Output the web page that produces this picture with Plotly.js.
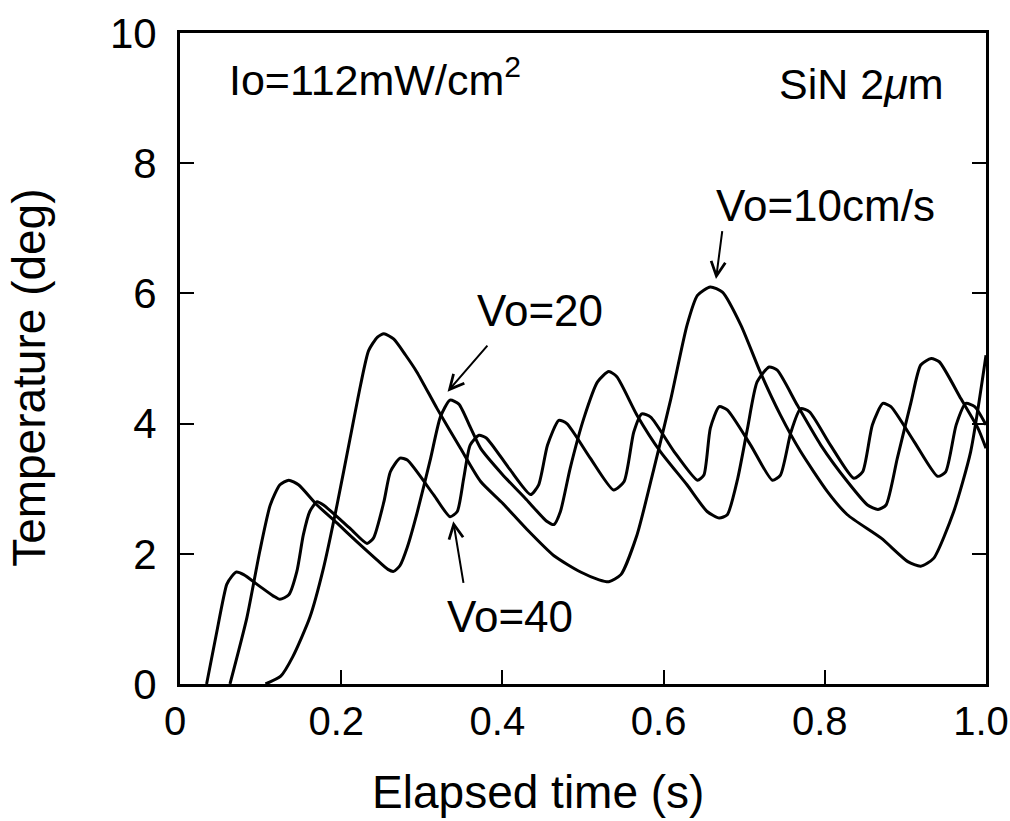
<!DOCTYPE html>
<html>
<head>
<meta charset="utf-8">
<script src="https://cdn.plot.ly/plotly-3.0.1.min.js"></script>
<style>
html, body { margin: 0; padding: 0; background: #ffffff; }
#chart { width: 1010px; height: 821px; }
</style>
</head>
<body>
<div id="chart"></div>
<script>
// ---- Data ----
// Vo = 40 cm/s
const v40Time = [0.033, 0.045, 0.058, 0.064, 0.070, 0.079, 0.099, 0.116, 0.124, 0.135, 0.145, 0.153, 0.161, 0.170, 0.178,
  0.211, 0.232, 0.240, 0.253, 0.261, 0.273, 0.282, 0.315, 0.335, 0.344, 0.352, 0.360, 0.371, 0.380, 0.409,
  0.435, 0.445, 0.456, 0.470, 0.480, 0.509, 0.538, 0.551, 0.563, 0.573, 0.584, 0.613, 0.642, 0.650, 0.658,
  0.669, 0.679, 0.708, 0.735, 0.745, 0.758, 0.770, 0.781, 0.807, 0.836, 0.847, 0.859, 0.872, 0.882, 0.911,
  0.940, 0.950, 0.963, 0.975, 0.986, 1.0];
const v40Temp = [0, 0.76, 1.53, 1.65, 1.72, 1.68, 1.50, 1.35, 1.30, 1.37, 1.73, 2.29, 2.65, 2.80, 2.75,
  2.39, 2.16, 2.24, 2.80, 3.26, 3.47, 3.44, 2.90, 2.57, 2.65, 3.16, 3.67, 3.82, 3.78, 3.30,
  2.91, 3.06, 3.67, 4.05, 4.00, 3.47, 2.98, 3.11, 3.87, 4.15, 4.10, 3.57, 3.13, 3.21, 3.93,
  4.26, 4.21, 3.67, 3.13, 3.21, 3.87, 4.23, 4.18, 3.67, 3.16, 3.26, 3.98, 4.31, 4.26, 3.72,
  3.19, 3.26, 3.98, 4.31, 4.26, 3.98];

// Vo = 20 cm/s
const v20Time = [0.062, 0.083, 0.099, 0.112, 0.124, 0.135, 0.147, 0.170, 0.195, 0.219, 0.244, 0.258, 0.265, 0.273,
  0.282, 0.294, 0.311, 0.323, 0.335, 0.346, 0.360, 0.373, 0.400, 0.430, 0.455, 0.464, 0.472, 0.484, 0.501,
  0.518, 0.532, 0.542, 0.567, 0.596, 0.629, 0.654, 0.669, 0.679, 0.692, 0.704, 0.716, 0.731, 0.741, 0.766,
  0.795, 0.828, 0.853, 0.866, 0.876, 0.890, 0.907, 0.919, 0.932, 0.942, 0.969, 0.990, 1.0];
const v20Temp = [0, 1.02, 2.04, 2.75, 3.06, 3.13, 3.06, 2.75, 2.47, 2.19, 1.91, 1.76, 1.73, 1.82,
  2.10, 2.62, 3.47, 4.10, 4.36, 4.30, 3.95, 3.62, 3.22, 2.83, 2.50, 2.45, 2.65, 3.31, 4.08,
  4.64, 4.80, 4.72, 4.13, 3.57, 3.06, 2.65, 2.55, 2.60, 3.16, 3.92, 4.64, 4.87, 4.82, 4.28,
  3.67, 3.11, 2.75, 2.68, 2.75, 3.47, 4.33, 4.90, 5.00, 4.95, 4.38, 3.93, 3.62];

// Vo = 10 cm/s
const v10Time = [0.106, 0.125, 0.140, 0.161, 0.178, 0.195, 0.211, 0.224, 0.234, 0.245, 0.253, 0.265, 0.280, 0.294, 0.319,
  0.348, 0.373, 0.400, 0.430, 0.464, 0.497, 0.520, 0.532, 0.547, 0.567, 0.588, 0.609, 0.629, 0.642, 0.658,
  0.673, 0.696, 0.720, 0.745, 0.770, 0.803, 0.828, 0.870, 0.903, 0.919, 0.935, 0.960, 0.981, 1.0];
const v10Temp = [0, 0.12, 0.42, 1.02, 1.78, 2.76, 3.77, 4.59, 5.12, 5.33, 5.38, 5.30, 5.05, 4.79, 4.23,
  3.62, 3.11, 2.78, 2.38, 1.97, 1.72, 1.60, 1.57, 1.68, 2.29, 3.31, 4.38, 5.51, 5.97, 6.10,
  6.02, 5.51, 4.79, 4.13, 3.57, 2.96, 2.60, 2.24, 1.88, 1.81, 1.93, 2.65, 3.57, 5.05];

// Axis ticks and titles
const xTickVals = [0, 0.2, 0.4, 0.6, 0.8, 1.0];
const xTickText = ["0", "0.2", "0.4", "0.6", "0.8", "1.0"];
const yTickVals = [0, 2, 4, 6, 8, 10];
const yTickText = ["0", "2", "4", "6", "8", "10"];
const xTitle = "Elapsed time (s)";
const yTitle = "Temperature (deg)";

// Text labels
const intensityLabel = "Io=112mW/cm<sup>2</sup>";
const filmLabel = "SiN 2<i>\u03bc</i>m";
const seriesLabels = ["Vo=10cm/s", "Vo=20", "Vo=40"];

// ---- Drawing ----
const FONT = "Liberation Sans, Arial, Helvetica, sans-serif";
const lineStyle = { color: "#000000", width: 3, shape: "spline", smoothing: 0.6 };
// trailing blank padding (kept from trimming by a zero-width end mark) shifts the centred titles
function padEnd(text, n) { return text + "\u00a0".repeat(n) + "\u200b"; }

const traces = [
  { x: v10Time, y: v10Temp, name: seriesLabels[0], mode: "lines", line: lineStyle, hoverinfo: "skip" },
  { x: v20Time, y: v20Temp, name: seriesLabels[1], mode: "lines", line: lineStyle, hoverinfo: "skip" },
  { x: v40Time, y: v40Temp, name: seriesLabels[2], mode: "lines", line: lineStyle, hoverinfo: "skip" }
];

function textNote(text, x, y, xanchor, size) {
  return { text: text, x: x, y: y, xref: "x", yref: "y", xanchor: xanchor, yanchor: "middle",
           showarrow: false, font: { family: FONT, size: size, color: "#000" } };
}
function arrowNote(hx, hy, tx, ty) {
  return { text: "", x: hx, y: hy, ax: tx, ay: ty, xref: "x", yref: "y", axref: "x", ayref: "y",
           showarrow: true, arrowhead: 5, arrowsize: 1.4, arrowwidth: 2, arrowcolor: "#000" };
}

const layout = {
  width: 1010, height: 821,
  margin: { l: 180, r: 24, t: 33, b: 137 },
  paper_bgcolor: "#ffffff", plot_bgcolor: "#ffffff",
  showlegend: false,
  font: { family: FONT, color: "#000", size: 42 },
  xaxis: {
    range: [0, 1], tickvals: xTickVals, ticktext: xTickText,
    ticks: "inside", ticklen: 14, tickwidth: 2, tickcolor: "#000",
    showline: true, linewidth: 3, linecolor: "#000", mirror: true,
    showgrid: false, zeroline: false, fixedrange: true,
    tickfont: { family: FONT, size: 40, color: "#000" },
    ticklabelshift: -5,
    ticklabelstandoff: 0,
    title: { text: padEnd(xTitle, 7), font: { family: FONT, size: 46, color: "#000" }, standoff: 34 }
  },
  yaxis: {
    range: [0, 10], tickvals: yTickVals, ticktext: yTickText,
    ticks: "inside", ticklen: 14, tickwidth: 2, tickcolor: "#000",
    showline: true, linewidth: 3, linecolor: "#000", mirror: "ticks",
    showgrid: false, zeroline: false, fixedrange: true,
    tickfont: { family: FONT, size: 42, color: "#000" },
    ticklabelstandoff: 12,
    title: { text: padEnd(yTitle, 3), font: { family: FONT, size: 46, color: "#000" }, standoff: 50 }
  },
  annotations: [
    textNote(intensityLabel, 0.058, 9.32, "left", 43),
    textNote(filmLabel, 0.95, 9.22, "right", 43),
    textNote(seriesLabels[0], 0.801, 7.35, "center", 44),
    textNote(seriesLabels[1], 0.447, 5.73, "center", 44),
    textNote(seriesLabels[2], 0.410, 1.03, "center", 44),
    arrowNote(0.665, 6.22, 0.673, 6.98),
    arrowNote(0.332, 4.49, 0.383, 5.22),
    arrowNote(0.339, 2.50, 0.352, 1.53)
  ]
};

Plotly.newPlot("chart", traces, layout, { staticPlot: true, displayModeBar: false });
</script>
</body>
</html>
